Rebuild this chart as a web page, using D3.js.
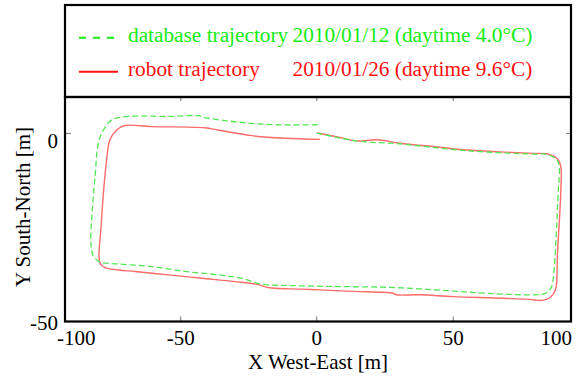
<!DOCTYPE html>
<html>
<head>
<meta charset="utf-8">
<script src="https://cdn.jsdelivr.net/npm/d3@7/dist/d3.min.js"></script>
<style>
  body { margin: 0; background: #fff; }
  text { font-family: "Liberation Serif", "Times New Roman", serif; }
</style>
</head>
<body>
<svg id="chart" width="582" height="381"></svg>
<script>
// axis ticks
const xTicks = [-100, -50, 0, 50, 100];
const yTicks = [-50, 0];

// database trajectory 2010/01/12, [x, y] in metres
const databasePath = [
  [0.0, 0.1], [14.6, -2.0], [30.5, -2.8], [55.7, -4.6], [84.0, -5.5], [89.7, -5.5],
  [91.5, -6.0], [93.9, -6.9], [95.0, -8.8], [94.6, -15.0], [93.6, -28.3], [92.7, -37.1],
  [91.8, -40.7], [90.2, -42.1], [88.9, -42.6], [84.0, -42.9], [64.2, -42.5], [43.9, -41.6],
  [25.6, -40.9], [6.7, -40.7], [-11.7, -40.4], [-20.2, -40.1], [-27.6, -38.5], [-36.2, -37.6],
  [-48.4, -36.7], [-62.5, -35.4], [-77.0, -34.7], [-84.9, -34.2], [-87.0, -33.2], [-87.8, -32.7],
  [-88.8, -29.2], [-88.2, -20.3], [-87.0, -11.5], [-85.6, -2.6], [-83.4, 0.9], [-79.8, 3.6],
  [-72.6, 4.5], [-55.4, 4.5], [-43.5, 4.7], [-41.1, 4.2], [-30.0, 3.1], [-15.3, 2.3], [0.6, 2.3]
];

// robot trajectory 2010/01/26
const robotPath = [
  [0.1, 0.1], [7.3, -0.9], [14.6, -2.0], [21.9, -1.7], [30.5, -2.6], [42.6, -3.5],
  [55.7, -4.4], [69.8, -4.9], [84.0, -5.3], [89.7, -5.4], [92.4, -6.0], [94.6, -7.0],
  [95.7, -8.8], [95.7, -15.0], [95.0, -23.9], [94.2, -32.7], [93.9, -39.8], [93.2, -41.9],
  [91.5, -43.4], [89.7, -44.1], [86.8, -44.4], [84.0, -44.2], [71.2, -43.8], [50.0, -43.4],
  [37.8, -42.9], [29.0, -42.9], [27.9, -42.5], [13.4, -42.0], [1.2, -41.6], [-5.5, -41.4],
  [-16.5, -41.1], [-19.0, -40.8], [-21.5, -40.2], [-30.0, -39.4], [-42.3, -38.5], [-55.4, -37.6],
  [-69.7, -36.7], [-77.0, -36.3], [-82.7, -35.7], [-84.7, -34.7], [-85.3, -32.7], [-84.4, -24.8],
  [-83.4, -15.8], [-82.0, -7.0], [-80.6, -1.7], [-77.7, 0.9], [-74.1, 2.1], [-62.5, 1.8],
  [-41.1, 1.5], [-36.3, 0.9], [-23.9, -0.6], [-11.7, -1.3], [1.2, -1.6]
];

const legendNames = ['database trajectory', 'robot trajectory'];
const legendDates = ['2010/01/12 (daytime 4.0\u00B0C)', '2010/01/26 (daytime 9.6\u00B0C)'];

const plot = {l: 65, r: 571, t: 97, b: 321.5};
const colors = {db: '#55e655', robot: '#ff6a6a', dbText: '#14ec14', robotText: '#ff1010'};

let svg = d3.select('#chart');

// x axis is not evenly spaced: the end labels sit on the frame edges
let xScale = d3.scaleLinear()
  .domain(xTicks)
  .range([plot.l, 180.7, 316.7, 453.3, plot.r]);

let yScale = d3.scaleLinear()
  .domain([-50, 0])
  .range([plot.b, 133.4]);

let line = d3.line()
  .x(d => xScale(d[0]))
  .y(d => yScale(d[1]))
  .curve(d3.curveCatmullRom.alpha(0.5));

// trajectories
svg.append('path')
  .attr('d', line(robotPath))
  .attr('fill', 'none')
  .attr('stroke', colors.robot)
  .attr('stroke-width', 1.4);

svg.append('path')
  .attr('d', line(databasePath))
  .attr('fill', 'none')
  .attr('stroke', colors.db)
  .attr('stroke-width', 1.3)
  .attr('stroke-dasharray', '6,3');

// inner ticks (bottom, top, left, right)
let innerX = xTicks.slice(1, -1);
svg.selectAll('.tickB').data(innerX).join('line')
  .attr('x1', d => xScale(d)).attr('x2', d => xScale(d))
  .attr('y1', plot.b).attr('y2', plot.b - 5)
  .attr('stroke', '#777').attr('stroke-width', 1);
svg.selectAll('.tickT').data(innerX).join('line')
  .attr('x1', d => xScale(d)).attr('x2', d => xScale(d))
  .attr('y1', plot.t).attr('y2', plot.t + 4)
  .attr('stroke', '#777').attr('stroke-width', 1);
svg.selectAll('.tickL').data([0]).join('line')
  .attr('x1', plot.l).attr('x2', plot.l + 6)
  .attr('y1', d => yScale(d)).attr('y2', d => yScale(d))
  .attr('stroke', '#777').attr('stroke-width', 1);
svg.selectAll('.tickR').data([0]).join('line')
  .attr('x1', plot.r).attr('x2', plot.r - 5)
  .attr('y1', d => yScale(d)).attr('y2', d => yScale(d))
  .attr('stroke', '#777').attr('stroke-width', 1);

// frames
svg.append('rect')
  .attr('x', plot.l).attr('y', plot.t)
  .attr('width', plot.r - plot.l).attr('height', plot.b - plot.t)
  .attr('fill', 'none').attr('stroke', '#000').attr('stroke-width', 2.2);
svg.append('rect')
  .attr('x', plot.l).attr('y', 5)
  .attr('width', plot.r - plot.l).attr('height', plot.t - 5)
  .attr('fill', 'none').attr('stroke', '#000').attr('stroke-width', 2.2);

// tick labels
svg.selectAll('.xLabel').data(xTicks).join('text')
  .attr('x', d => {
    if (d === xTicks[0]) return xScale(d) - 8;
    if (d === xTicks[xTicks.length - 1]) return xScale(d) + 1;
    return xScale(d);
  })
  .attr('y', 345)
  .attr('text-anchor', (d, i) => i === 0 ? 'start' : (i === xTicks.length - 1 ? 'end' : 'middle'))
  .style('font-size', '21px')
  .text(d => d);

svg.selectAll('.yLabel').data(yTicks).join('text')
  .attr('x', 58)
  .attr('y', d => yScale(d) + (d === 0 ? 14.7 : 8.3))
  .attr('text-anchor', 'end')
  .style('font-size', '21px')
  .text(d => d);

// axis titles
svg.append('text')
  .attr('x', (plot.l + plot.r) / 2)
  .attr('y', 369)
  .attr('text-anchor', 'middle')
  .style('font-size', '21px')
  .text('X West-East [m]');

svg.append('text')
  .attr('transform', 'translate(30, 207) rotate(-90)')
  .attr('text-anchor', 'middle')
  .style('font-size', '21px')
  .text('Y South-North [m]');

// legend
let legendY = [37.7, 71.7];
svg.append('line')
  .attr('x1', 79).attr('x2', 115).attr('y1', legendY[0]).attr('y2', legendY[0])
  .attr('stroke', colors.dbText).attr('stroke-width', 2).attr('stroke-dasharray', '7,7');
svg.append('line')
  .attr('x1', 79).attr('x2', 118).attr('y1', legendY[1]).attr('y2', legendY[1])
  .attr('stroke', colors.robotText).attr('stroke-width', 2);

let legendColors = [colors.dbText, colors.robotText];
legendNames.forEach((name, i) => {
  svg.append('text')
    .attr('x', 128).attr('y', legendY[i] + 4)
    .attr('fill', legendColors[i])
    .style('font-size', '21.3px')
    .text(name);
  svg.append('text')
    .attr('x', 292.5).attr('y', legendY[i] + 4)
    .attr('fill', legendColors[i])
    .style('font-size', '21.3px')
    .text(legendDates[i]);
});
</script>
</body>
</html>
